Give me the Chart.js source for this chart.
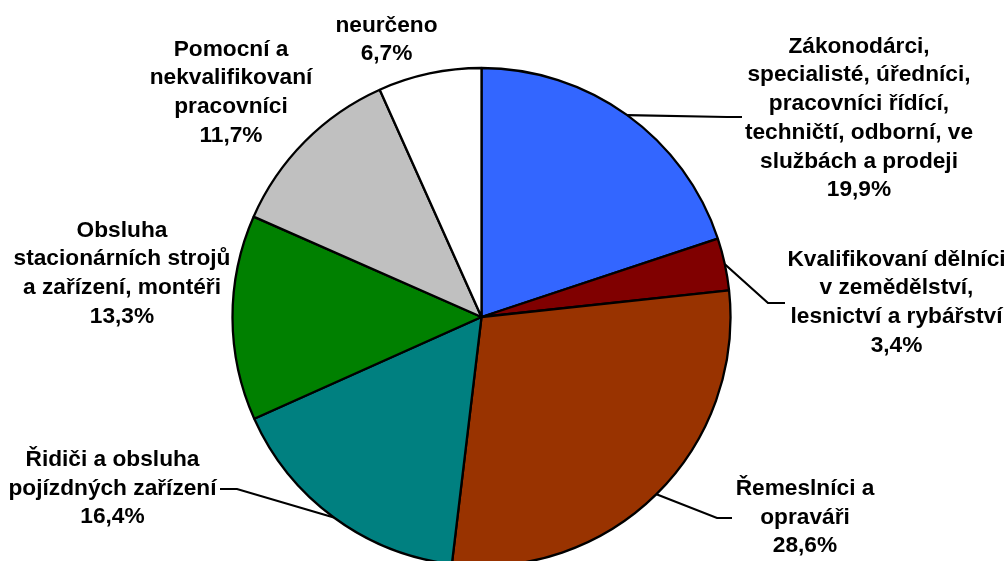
<!DOCTYPE html>
<html>
<head>
<meta charset="utf-8">
<script src="https://cdn.jsdelivr.net/npm/chart.js@4/dist/chart.umd.min.js"></script>
<style>
  html, body { margin: 0; padding: 0; background: #ffffff; overflow: hidden; }
  #wrap { width: 1008px; height: 561px; position: relative; }
</style>
</head>
<body>
<div id="wrap"><canvas id="c"></canvas></div>
<script>
// ---- data ----
const categories = [
  ["Zákonodárci,", "specialisté, úředníci,", "pracovníci řídící,", "techničtí, odborní, ve", "službách a prodeji"],
  ["Kvalifikovaní dělníci", "v zemědělství,", "lesnictví a rybářství"],
  ["Řemeslníci a", "opraváři"],
  ["Řidiči a obsluha", "pojízdných zařízení"],
  ["Obsluha", "stacionárních strojů", "a zařízení, montéři"],
  ["Pomocní a", "nekvalifikovaní", "pracovníci"],
  ["neurčeno"]
];
const values = [19.9, 3.4, 28.6, 16.4, 13.3, 11.7, 6.7];
const colors = ["#3366FF", "#800000", "#993300", "#008080", "#008000", "#C0C0C0", "#FFFFFF"];

// ---- label layout (text centre x, first baseline y, leader end point) ----
const labelLayout = [
  { x: 859,   y: 52.7,  end: [742, 117], elbow: [727, 117] },
  { x: 896.5, y: 265.7, end: [785, 303], elbow: [768, 303] },
  { x: 805,   y: 495,   end: [732, 518], elbow: [717, 518] },
  { x: 112.5, y: 466,   end: [220, 489], elbow: [237, 489] },
  { x: 122,   y: 236.7, end: null },
  { x: 231,   y: 55.7,  end: null },
  { x: 386.5, y: 31.7,  end: null }
];
const LINE_H = 28.7;
const FONT = 'bold 22.7px "Liberation Sans", Arial, sans-serif';

function fmtPct(v) { return v.toFixed(1).replace('.', ',') + '%'; }

const labelPlugin = {
  id: 'pieLabels',
  afterDraw(chart) {
    const ctx = chart.ctx;
    const meta = chart.getDatasetMeta(0);
    ctx.save();
    // leader lines
    ctx.strokeStyle = '#000000';
    ctx.lineWidth = 2.2;
    meta.data.forEach((arc, i) => {
      const lay = labelLayout[i];
      if (!lay.end) return;
      const p = arc.getProps(['x', 'y', 'startAngle', 'endAngle', 'outerRadius'], true);
      const mid = (p.startAngle + p.endAngle) / 2;
      const sx = p.x + Math.cos(mid) * p.outerRadius;
      const sy = p.y + Math.sin(mid) * p.outerRadius;
      ctx.beginPath();
      ctx.moveTo(sx, sy);
      ctx.lineTo(lay.elbow[0], lay.elbow[1]);
      ctx.lineTo(lay.end[0], lay.end[1]);
      ctx.stroke();
    });
    // texts
    ctx.fillStyle = '#000000';
    ctx.font = FONT;
    ctx.textAlign = 'center';
    ctx.textBaseline = 'alphabetic';
    categories.forEach((lines, i) => {
      const lay = labelLayout[i];
      const all = lines.concat([fmtPct(values[i])]);
      all.forEach((t, k) => {
        ctx.fillText(t, lay.x, lay.y + k * LINE_H);
      });
    });
    ctx.restore();
  }
};

new Chart(document.getElementById('c'), {
  type: 'pie',
  data: {
    labels: categories.map(l => l.join(' ')),
    datasets: [{
      data: values,
      backgroundColor: colors,
      borderColor: '#000000',
      borderWidth: 2.3,
      radius: 249
    }]
  },
  options: {
    responsive: true,
    maintainAspectRatio: false,
    animation: false,
    events: [],
    layout: { padding: { top: 80, bottom: 7, left: 0, right: 45 } },
    plugins: {
      legend: { display: false },
      title: { display: false },
      tooltip: { enabled: false }
    }
  },
  plugins: [labelPlugin]
});
</script>
</body>
</html>
